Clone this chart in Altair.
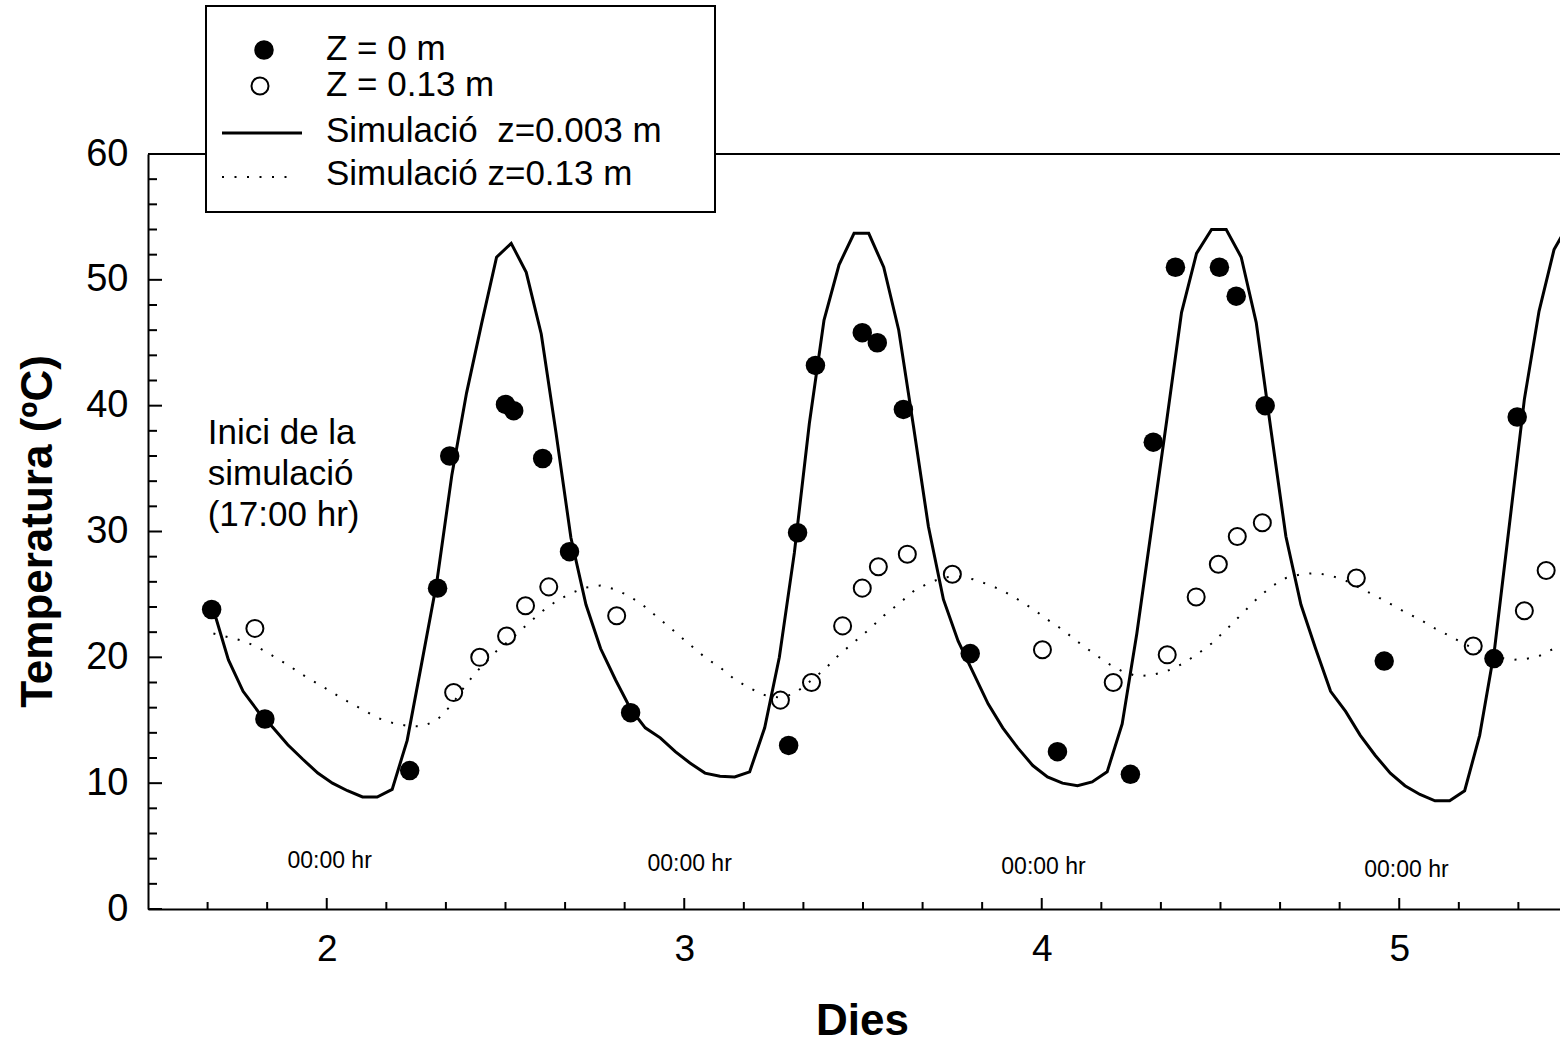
import altair as alt
import pandas as pd

FONT = "Liberation Sans"
W, H = 1412, 755  # plot area in pixels

# ---- simulated temperature, hourly output of the model ----
sim_day = [
    1.683, 1.725, 1.766, 1.808, 1.850, 1.891, 1.933, 1.975, 2.016, 2.058,
    2.100, 2.141, 2.183, 2.225, 2.266, 2.308, 2.350, 2.391, 2.433, 2.475,
    2.516, 2.558, 2.600, 2.641, 2.683, 2.725, 2.766, 2.808, 2.850, 2.891,
    2.933, 2.975, 3.016, 3.058, 3.100, 3.141, 3.183, 3.225, 3.266, 3.308,
    3.350, 3.391, 3.433, 3.475, 3.516, 3.558, 3.600, 3.641, 3.683, 3.725,
    3.766, 3.808, 3.850, 3.891, 3.933, 3.975, 4.016, 4.058, 4.100, 4.141,
    4.183, 4.225, 4.266, 4.308, 4.350, 4.391, 4.433, 4.475, 4.516, 4.558,
    4.600, 4.641, 4.683, 4.725, 4.766, 4.808, 4.850, 4.891, 4.933, 4.975,
    5.016, 5.058, 5.100, 5.141, 5.183, 5.225, 5.266, 5.308, 5.350, 5.391,
    5.433, 5.475,
]
# z = 0.003 m
sim_surface = [
    23.8, 19.8, 17.3, 15.7, 14.4, 13.05, 11.9, 10.8, 10.0, 9.4,
    8.9, 8.9, 9.5, 13.4, 19.6, 26.0, 34.5, 41.0, 46.5, 51.8,
    52.9, 50.6, 45.7, 37.9, 29.5, 24.2, 20.7, 18.2, 15.9, 14.4,
    13.6, 12.5, 11.6, 10.8, 10.55, 10.5, 10.9, 14.4, 20.0, 28.3,
    38.6, 46.8, 51.2, 53.7, 53.7, 51.0, 46.0, 38.4, 30.4, 24.6,
    21.3, 18.8, 16.3, 14.4, 12.8, 11.4, 10.5, 10.0, 9.8, 10.1,
    10.9, 14.7, 21.9, 30.4, 38.9, 47.4, 52.1, 54.0, 54.0, 51.8,
    46.6, 38.1, 29.6, 24.2, 20.7, 17.3, 15.7, 13.8, 12.2, 10.8,
    9.8, 9.1, 8.6, 8.6, 9.4, 13.8, 20.5, 30.5, 40.5, 47.5,
    52.4, 54.5,
]
# z = 0.13 m
sim_deep = [
    21.9, 21.6, 21.3, 20.8, 20.1, 19.4, 18.6, 17.9, 17.2, 16.5,
    15.85, 15.2, 14.8, 14.55, 14.5, 15.0, 16.25, 17.9, 19.3, 20.5,
    21.45, 22.55, 23.6, 24.45, 25.1, 25.55, 25.7, 25.4, 24.8, 24.0,
    23.0, 22.0, 21.0, 20.0, 19.2, 18.25, 17.55, 17.0, 16.8, 17.1,
    18.05, 19.0, 20.2, 21.2, 22.2, 23.3, 24.25, 25.25, 25.9, 26.35,
    26.45, 26.2, 25.8, 25.3, 24.6, 23.85, 23.0, 22.2, 21.25, 20.4,
    19.55, 18.9, 18.5, 18.6, 18.9, 19.45, 20.2, 21.1, 22.2, 23.4,
    24.6, 25.6, 26.3, 26.6, 26.7, 26.5, 26.1, 25.5, 24.9, 24.25,
    23.6, 23.0, 22.3, 21.7, 21.05, 20.5, 20.1, 19.8, 19.85, 20.1,
    20.7, 21.3,
]

# ---- measurements ----
obs0_day = [1.678, 1.827, 2.232, 2.310, 2.344, 2.500, 2.523, 2.604, 2.679, 2.850,
            3.292, 3.317, 3.367, 3.498, 3.540, 3.613, 3.800, 4.044,
            4.248, 4.312, 4.374, 4.497, 4.544, 4.625, 4.958, 5.265, 5.330]
obs0_temp = [23.8, 15.1, 11.0, 25.5, 36.0, 40.1, 39.6, 35.8, 28.4, 15.6,
             13.0, 29.9, 43.2, 45.8, 45.0, 39.7, 20.3, 12.5,
             10.7, 37.1, 51.0, 51.0, 48.7, 40.0, 19.7, 19.9, 39.1]

obs13_day = [1.799, 2.355, 2.428, 2.503, 2.556, 2.621, 2.811, 3.269, 3.356, 3.443,
             3.498, 3.543, 3.624, 3.750, 4.002, 4.200, 4.351, 4.432, 4.494, 4.547,
             4.617, 4.880, 5.207, 5.350, 5.411]
obs13_temp = [22.3, 17.2, 20.0, 21.7, 24.1, 25.6, 23.3, 16.6, 18.0, 22.5,
              25.5, 27.2, 28.2, 26.6, 20.6, 18.0, 20.2, 24.8, 27.4, 29.6,
              30.7, 26.3, 20.9, 23.7, 26.9]

# ---- annotations ----
midnight_day = [2.008, 3.015, 4.005, 5.020]
midnight_temp = [3.8, 3.6, 3.3, 3.1]
midnight_text = ["00:00 hr", "00:00 hr", "00:00 hr", "00:00 hr"]

note_day = [1.667, 1.667, 1.667]
note_temp = [37.8, 34.6, 31.3]
note_text = ["Inici de la", "simulació", "(17:00 hr)"]

x_labels = [2, 3, 4, 5]
y_labels = [0, 10, 20, 30, 40, 50, 60]
x_minor = [round(1.5 + k / 6, 4) for k in range(1, 24) if k % 6 != 3]
y_minor = [v for v in range(2, 60, 2) if v % 10]

legend_text = ["Z = 0 m", "Z = 0.13 m", "Simulació \u00a0z=0.003 m", "Simulació z=0.13 m"]

# ---- scales and axes (shared by every layer) ----
xs = alt.Scale(domain=[1.5, 5.4497], nice=False, zero=False)
ys = alt.Scale(domain=[0, 60], nice=False, zero=False)

x_axis = alt.Axis(
    values=x_labels, title="Dies", grid=False, ticks=False,
    domainColor="black", domainWidth=2,
    labelFont=FONT, labelFontSize=37, labelColor="black", labelPadding=22,
    titleFont=FONT, titleFontSize=44, titleFontWeight="bold", titleColor="black",
    titleX=714, titleY=125, titleBaseline="alphabetic", titleAlign="center",
)
y_axis = alt.Axis(
    values=y_labels, title="Temperatura (ºC)", grid=False, ticks=False,
    domainColor="black", domainWidth=2,
    labelFont=FONT, labelFontSize=38, labelColor="black", labelPadding=20,
    titleFont=FONT, titleFontSize=44, titleFontWeight="bold", titleColor="black",
    titleAngle=270, titleX=-110, titleY=377, titleBaseline="middle", titleAlign="center",
)


def xq():
    return alt.X("day:Q", scale=xs, axis=x_axis)


def yq():
    return alt.Y("temp:Q", scale=ys, axis=y_axis)


surface_df = pd.DataFrame({"day": sim_day, "temp": sim_surface})
deep_df = pd.DataFrame({"day": sim_day, "temp": sim_deep})
obs0_df = pd.DataFrame({"day": obs0_day, "temp": obs0_temp})
obs13_df = pd.DataFrame({"day": obs13_day, "temp": obs13_temp})
midnight_df = pd.DataFrame({"day": midnight_day, "temp": midnight_temp, "label": midnight_text})
note_df = pd.DataFrame({"day": note_day, "temp": note_temp, "label": note_text})
one = pd.DataFrame({"k": [0]})

# frame line along the top of the plot
top_frame = alt.Chart(one).mark_rule(color="black", strokeWidth=2).encode(
    x=alt.value(0), x2=alt.value(W), y=alt.value(0))

# inward-pointing ticks
ytick_major = alt.Chart(pd.DataFrame({"temp": y_labels})).mark_rule(color="black", strokeWidth=2).encode(
    y=yq(), x=alt.value(0), x2=alt.value(14))
ytick_minor = alt.Chart(pd.DataFrame({"temp": y_minor})).mark_rule(color="black", strokeWidth=2).encode(
    y=yq(), x=alt.value(0), x2=alt.value(9))
xtick_major = alt.Chart(pd.DataFrame({"day": x_labels})).mark_rule(color="black", strokeWidth=2).encode(
    x=xq(), y=alt.value(H), y2=alt.value(H - 11))
xtick_minor = alt.Chart(pd.DataFrame({"day": x_minor})).mark_rule(color="black", strokeWidth=2).encode(
    x=xq(), y=alt.value(H), y2=alt.value(H - 7))

surface_line = alt.Chart(surface_df).mark_line(
    color="black", strokeWidth=3, clip=True).encode(x=xq(), y=yq())
deep_line = alt.Chart(deep_df).mark_line(
    color="black", strokeWidth=2, strokeDash=[2, 10.5], clip=True).encode(x=xq(), y=yq())

obs0_pts = alt.Chart(obs0_df).mark_point(
    shape="circle", filled=True, size=380, color="black", opacity=1).encode(x=xq(), y=yq())
obs13_pts = alt.Chart(obs13_df).mark_point(
    shape="circle", filled=False, size=290, color="black", strokeWidth=2, opacity=1).encode(x=xq(), y=yq())

midnight = alt.Chart(midnight_df).mark_text(
    font=FONT, fontSize=23, color="black", align="center", baseline="middle").encode(
    x=xq(), y=yq(), text="label:N")
note = alt.Chart(note_df).mark_text(
    font=FONT, fontSize=35, color="black", align="left", baseline="middle").encode(
    x=xq(), y=yq(), text="label:N")

# legend box drawn in pixel space above the plot
legend_box = alt.Chart(one).mark_rect(fill="white", stroke="black", strokeWidth=2).encode(
    x=alt.value(58), x2=alt.value(567), y=alt.value(-148), y2=alt.value(58))
legend_dot = alt.Chart(one).mark_point(
    shape="circle", filled=True, size=380, color="black", opacity=1).encode(
    x=alt.value(116), y=alt.value(-104))
legend_ring = alt.Chart(one).mark_point(
    shape="circle", filled=False, size=290, color="black", strokeWidth=2, opacity=1).encode(
    x=alt.value(112), y=alt.value(-68))
legend_solid = alt.Chart(one).mark_rule(color="black", strokeWidth=3).encode(
    x=alt.value(74), x2=alt.value(154), y=alt.value(-21))
legend_dotted = alt.Chart(one).mark_rule(color="black", strokeWidth=2, strokeDash=[2, 10.5]).encode(
    x=alt.value(74), x2=alt.value(149), y=alt.value(23))

legend_rows_y = [-105, -69, -23, 20]
legend_texts = [
    alt.Chart(one).mark_text(font=FONT, fontSize=35, color="black", align="left", baseline="middle").encode(
        x=alt.value(178), y=alt.value(ty), text=alt.value(t))
    for t, ty in zip(legend_text, legend_rows_y)
]

chart = alt.layer(
    surface_line, top_frame, ytick_major, ytick_minor, xtick_major, xtick_minor,
    deep_line, obs0_pts, obs13_pts, midnight, note,
    legend_box, legend_dot, legend_ring, legend_solid, legend_dotted, *legend_texts,
).properties(
    width=W, height=H,
    autosize=alt.AutoSizeParams(type="none"),
    padding={"left": 148, "top": 154, "right": 0, "bottom": 135},
).configure(background="white").configure_view(stroke=None)

chart.save("out.html", embed_options={"renderer": "svg", "actions": False})
